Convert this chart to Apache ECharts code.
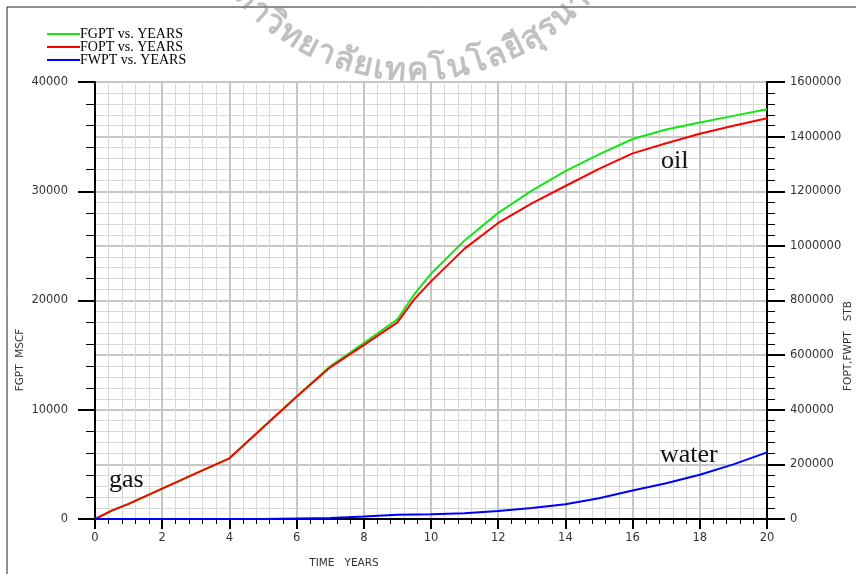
<!DOCTYPE html>
<html>
<head>
<meta charset="utf-8">
<script src="https://cdn.jsdelivr.net/npm/echarts@6/dist/echarts.min.js"></script>
<style>
html,body{margin:0;padding:0;background:#fff;}
#chart{width:856px;height:574px;}
</style>
</head>
<body>
<div id="chart"></div>
<script>
// ---- data ----
const years = [0, 0.5, 1, 2, 3, 4, 5, 6, 7, 8, 9, 9.5, 10, 11, 12, 13, 14, 15, 16, 17, 18, 19, 20];
// FGPT, MSCF (left axis)
const fgpt = [0, 760, 1390, 2780, 4170, 5556, 8400, 11220, 13980, 16100, 18280, 20550, 22450, 25500, 28020, 30050, 31850, 33380, 34780, 35650, 36290, 36900, 37500];
// FOPT, STB (right axis)
const fopt = [0, 30400, 55600, 111200, 166800, 222200, 334800, 447200, 555200, 636800, 720000, 804000, 870000, 990000, 1084000, 1156000, 1219200, 1282000, 1338800, 1376000, 1410400, 1440000, 1467000];
// FWPT, STB (right axis)
const fwpt = [0, 0, 0, 0, 0, 0, 0, 2000, 4000, 9000, 15500, 16500, 17500, 21500, 29500, 40000, 54000, 76000, 104000, 131000, 162000, 200000, 244000];
const seriesNames = ['FGPT vs. YEARS', 'FOPT vs. YEARS', 'FWPT vs. YEARS'];
const xRange = [0, 20];
const leftRange = [0, 40000];
const rightRange = [0, 1600000];
const watermark = ['ม','ห','า','วิ','ท','ย','า','ลั','ย','เ','ท','ค','โ','น','โ','ล','ยี','สุ','ร','น','า','รี'];

const pair = (xs, ys) => xs.map((x, i) => [x, ys[i]]);
const chart = echarts.init(document.getElementById('chart'), null, {renderer: 'canvas'});

const sans = 'DejaVu Sans';
const serif = 'Liberation Serif';
const plain = v => String(v);

// ---- watermark laid out along an arc (layout only) ----
const wmFamily = '"Noto Sans", "DejaVu Sans", sans-serif';
const wmWeight = 'bold ';
const mctx = document.createElement('canvas').getContext('2d');
mctx.font = wmWeight + '100px ' + wmFamily;
const w100 = watermark.map(c => mctx.measureText(c).width);
const mid100 = [];
let acc = 0;
w100.forEach(w => { mid100.push(acc + w / 2); acc += w; });
const iA = 3, iB = 18;               // clusters whose centres were measured
const arcCx = 414, arcCy = -157, arcR = 220;
const angA = Math.asin((279 - arcCx) / arcR), angB = Math.asin((543 - arcCx) / arcR);
const k = ((angB - angA) * arcR) / (mid100[iB] - mid100[iA]);
const wmSize = 100 * k;
const wmGraphics = watermark.map((ch, i) => {
  const phi = angA + (mid100[i] - mid100[iA]) * k / arcR;
  const r = arcR + 0.25 * wmSize;
  return {
    type: 'text', silent: true, z: 50,
    x: arcCx + r * Math.sin(phi),
    y: arcCy + r * Math.cos(phi),
    rotation: phi,
    style: {text: ch, fill: 'rgba(130,130,130,0.5)', font: wmWeight + wmSize.toFixed(1) + 'px ' + wmFamily,
            align: 'center', verticalAlign: 'middle'}
  };
});

const option = {
  animation: false,
  backgroundColor: '#ffffff',
  legend: {
    orient: 'vertical', left: 47, top: 27, itemGap: -1, itemWidth: 33, itemHeight: 2,
    icon: 'rect', padding: 0,
    textStyle: {fontFamily: serif, fontSize: 14, color: '#000', lineHeight: 11, padding: [0, 0, 0, -5]},
    data: seriesNames
  },
  grid: {left: 95, right: 89, top: 82, bottom: 55, containLabel: false},
  xAxis: {
    type: 'value', min: xRange[0], max: xRange[1], interval: 2,
    axisLine: {show: true, onZero: false, lineStyle: {color: '#000', width: 2}},
    axisTick: {show: true, inside: false, length: 10, lineStyle: {color: '#000', width: 2}},
    minorTick: {show: true, splitNumber: 5, length: 5, lineStyle: {color: '#000', width: 1}},
    axisLabel: {margin: 13, fontFamily: sans, fontSize: 11.5, color: '#333', formatter: plain},
    splitLine: {show: true, lineStyle: {color: '#c6c6c6', width: 2}},
    minorSplitLine: {show: true, lineStyle: {color: '#d8d8d8', width: 1}}
  },
  yAxis: [
    {
      type: 'value', position: 'left', min: leftRange[0], max: leftRange[1], interval: 10000,
      axisLine: {show: true, onZero: false, lineStyle: {color: '#000', width: 2}},
      axisTick: {show: true, inside: false, length: 17, lineStyle: {color: '#000', width: 2}},
      minorTick: {show: true, splitNumber: 5, length: 9, lineStyle: {color: '#000', width: 1}},
      axisLabel: {margin: 27, fontFamily: sans, fontSize: 11.5, color: '#333', formatter: plain},
      splitLine: {show: false}
    },
    {
      type: 'value', position: 'right', min: rightRange[0], max: rightRange[1], interval: 200000,
      axisLine: {show: true, onZero: false, lineStyle: {color: '#000', width: 2}},
      axisTick: {show: true, inside: false, length: 18, lineStyle: {color: '#000', width: 2}},
      minorTick: {show: true, splitNumber: 5, length: 8, lineStyle: {color: '#000', width: 1}},
      axisLabel: {margin: 23, fontFamily: sans, fontSize: 11.5, color: '#333', formatter: plain},
      splitLine: {show: true, lineStyle: {color: '#c6c6c6', width: 2}},
      minorSplitLine: {show: true, lineStyle: {color: '#d8d8d8', width: 1}}
    }
  ],
  series: [
    {name: seriesNames[0], type: 'line', yAxisIndex: 0, data: pair(years, fgpt), showSymbol: false, symbol: 'none',
     lineStyle: {color: '#14e614', width: 2}, itemStyle: {color: '#14e614'}, z: 3},
    {name: seriesNames[1], type: 'line', yAxisIndex: 1, data: pair(years, fopt), showSymbol: false, symbol: 'none',
     lineStyle: {color: '#ff0000', width: 2}, itemStyle: {color: '#ff0000'}, z: 4},
    {name: seriesNames[2], type: 'line', yAxisIndex: 1, data: pair(years, fwpt), showSymbol: false, symbol: 'none',
     lineStyle: {color: '#0000ff', width: 2}, itemStyle: {color: '#0000ff'}, z: 5}
  ],
  graphic: [
    {type: 'polyline', silent: true, shape: {points: [[7, 574], [7, 7], [856, 7]]}, style: {stroke: '#222', lineWidth: 1, fill: null}},
    {type: 'text', silent: true, x: 20, y: 360, rotation: Math.PI / 2,
     style: {text: 'FGPT  MSCF', font: '10.5px "DejaVu Sans"', fill: '#333', align: 'center', verticalAlign: 'middle'}},
    {type: 'text', silent: true, x: 848, y: 346, rotation: Math.PI / 2,
     style: {text: 'FOPT,FWPT   STB', font: '10.5px "DejaVu Sans"', fill: '#333', align: 'center', verticalAlign: 'middle'}},
    {type: 'text', silent: true, x: 344, y: 563,
     style: {text: 'TIME   YEARS', font: '10.5px "DejaVu Sans"', fill: '#333', align: 'center', verticalAlign: 'middle'}},
    {type: 'text', silent: true, x: 661, y: 148, z: 60,
     style: {text: 'oil', font: '26px "Liberation Serif"', fill: '#111', align: 'left', verticalAlign: 'top'}},
    {type: 'text', silent: true, x: 660, y: 442, z: 60,
     style: {text: 'water', font: '26px "Liberation Serif"', fill: '#111', align: 'left', verticalAlign: 'top'}},
    {type: 'text', silent: true, x: 109, y: 467, z: 60,
     style: {text: 'gas', font: '26px "Liberation Serif"', fill: '#111', align: 'left', verticalAlign: 'top'}}
  ].concat(wmGraphics)
};
chart.setOption(option);
</script>
</body>
</html>
